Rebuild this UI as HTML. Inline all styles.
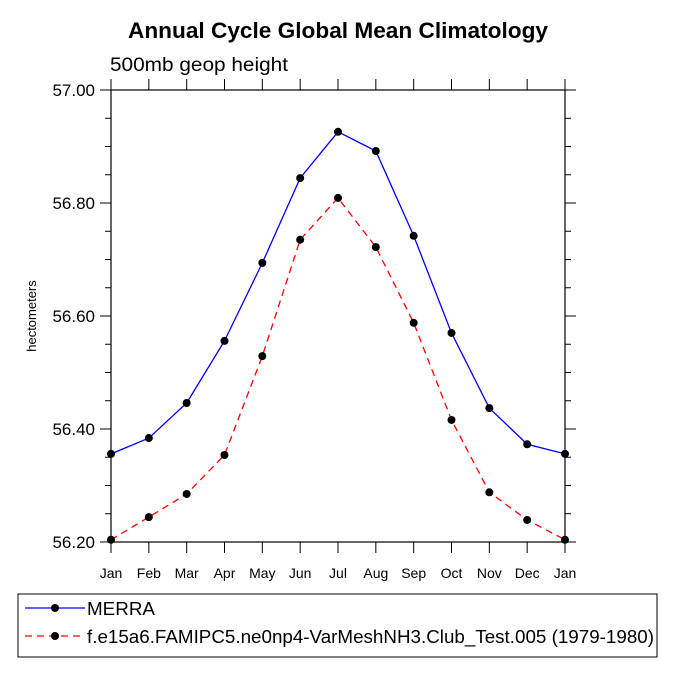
<!DOCTYPE html>
<html><head><meta charset="utf-8"><style>
html,body{margin:0;padding:0;background:#fff;width:675px;height:675px;overflow:hidden}
text{font-family:"Liberation Sans",Arial,sans-serif}
</style></head><body>
<svg id="chart" width="675" height="675" xmlns="http://www.w3.org/2000/svg">
<text x="128" y="38" font-size="22" font-weight="bold" textLength="420" lengthAdjust="spacingAndGlyphs">Annual Cycle Global Mean Climatology</text>
<text x="110" y="71" font-size="19" textLength="178" lengthAdjust="spacingAndGlyphs">500mb geop height</text>
<text transform="translate(36,316) rotate(-90)" text-anchor="middle" font-size="13">hectometers</text>
<g id="axes"></g>
<g id="series"></g>
<g>
<rect x="18" y="594" width="639" height="63" fill="none" stroke="#000" stroke-width="1"/>
<g>
<line x1="25" y1="608" x2="85" y2="608" stroke="#0000ff" stroke-width="1.3"/>
<circle cx="55" cy="608" r="4" fill="#000"/>
<text x="87" y="615" font-size="18" textLength="68" lengthAdjust="spacingAndGlyphs">MERRA</text></g>
<g>
<line x1="25" y1="636" x2="85" y2="636" stroke="#ff0000" stroke-width="1.3" stroke-dasharray="7,5"/>
<circle cx="55" cy="636" r="4" fill="#000"/>
<text x="87" y="643" font-size="18" textLength="567" lengthAdjust="spacingAndGlyphs">f.e15a6.FAMIPC5.ne0np4-VarMeshNH3.Club_Test.005 (1979-1980)</text></g>
</g>
</svg>
<script>
const months = ["Jan","Feb","Mar","Apr","May","Jun","Jul","Aug","Sep","Oct","Nov","Dec","Jan"];
const merra = [56.356,56.384,56.446,56.556,56.694,56.844,56.926,56.892,56.742,56.570,56.437,56.373,56.356];
const model = [56.204,56.244,56.285,56.354,56.529,56.735,56.809,56.722,56.588,56.416,56.288,56.239,56.204];
const yTicks = [56.20,56.40,56.60,56.80,57.00];
const yTickLabels = ["56.20","56.40","56.60","56.80","57.00"];

const NS="http://www.w3.org/2000/svg";
const L=111,R=565,T=90,B=542,yMin=56.2,yMax=57.0;
const xs=i=>L+(R-L)*i/(months.length-1);
const ys=v=>B-(B-T)*(v-yMin)/(yMax-yMin);
function mk(tag,a,parent){const e=document.createElementNS(NS,tag);for(const k in a)e.setAttribute(k,a[k]);parent.appendChild(e);return e;}
const ax=document.getElementById('axes');
const frame=mk('rect',{x:L,y:T,width:R-L,height:B-T,fill:'none',stroke:'#000','stroke-width':1.2},ax);


months.forEach((m,i)=>{
  const x=xs(i);
  mk('line',{x1:x,y1:B,x2:x,y2:B+11,stroke:'#000','stroke-width':1},ax);
  mk('line',{x1:x,y1:T,x2:x,y2:T-11,stroke:'#000','stroke-width':1},ax);
  const t=mk('text',{x:x,y:B+36,'text-anchor':'middle','font-size':14},ax);
  t.textContent=m;
  
  
});
for(let k=0;k<=16;k++){
  const v=yMin+k*0.05,y=ys(v),major=k%4===0,len=major?11:6;
  mk('line',{x1:L,y1:y,x2:L-len,y2:y,stroke:'#000','stroke-width':1},ax);
  mk('line',{x1:R,y1:y,x2:R+len,y2:y,stroke:'#000','stroke-width':1},ax);
}
yTicks.forEach((v,i)=>{
  const t=mk('text',{x:L-16,y:ys(v)+6,'text-anchor':'end','font-size':17},ax);
  t.textContent=yTickLabels[i];
  
  
});
const sg=document.getElementById('series');
function draw(vals,color,dash,name){
  const g=mk('g',{},sg);
  
  
  const p=mk('polyline',{points:vals.map((v,i)=>xs(i)+','+ys(v)).join(' '),fill:'none',stroke:color,'stroke-width':1.3},g);
  if(dash)p.setAttribute('stroke-dasharray',dash);
  vals.forEach((v,i)=>{
    const c=mk('circle',{cx:xs(i),cy:ys(v),r:4,fill:'#000'},g);
    
    
  });
}
draw(merra,'#0000ff',null,'merra-series');
draw(model,'#ff0000','7,5','model-series');
</script>
</body></html>
